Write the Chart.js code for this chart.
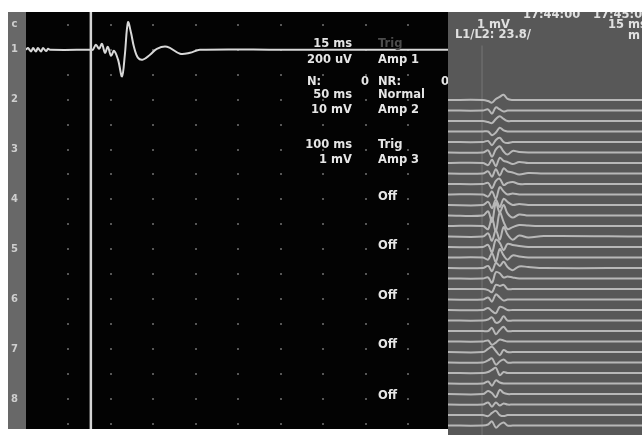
<!DOCTYPE html>
<html>
<head>
<meta charset="utf-8">
<script src="https://cdn.jsdelivr.net/npm/chart.js@4/dist/chart.umd.min.js"></script>
<style>
  html, body { margin: 0; padding: 0; background: #ffffff; }
  body { width: 642px; height: 435px; position: relative; overflow: hidden; }
  canvas { position: absolute; top: 0; }
  #live { left: 0; }
  #stack { left: 448px; }
</style>
</head>
<body>
<canvas id="live" width="448" height="435"></canvas>
<canvas id="stack" width="194" height="435"></canvas>
<script>
// ---- Channel strip: labels and their vertical positions (uV, 200 uV per row) ----
const CHANNEL_LABELS = ['c', '1', '2', '3', '4', '5', '6', '7', '8'];
const CHANNEL_UV = [200, 0, -400, -800, -1200, -1600, -2000, -2400, -2800];

// ---- Channel 1 live sweep: time (ms) and amplitude (uV) ----
const TRACE1_MS = [0, 0.07, 0.18, 0.25, 0.35, 0.42, 0.53, 0.60, 0.71, 0.78, 0.85,
  2.29, 2.36, 2.47, 2.58, 2.68, 2.79, 2.89, 3.00, 3.11, 3.25, 3.39, 3.49, 3.60,
  3.71, 3.81, 3.95, 4.13, 4.38, 4.62, 4.98, 5.44, 5.79, 6.14, 9.00, 14.9];
const TRACE1_UV = [0, 14, -14, 14, -14, 14, -14, 14, -10, 8, 0,
  0, 0, 40, 8, 47, -24, 24, -47, -8, -79, -213, -40, 221,
  134, 24, -63, -79, -40, 8, 24, -32, -24, 0, 0, 0];
const CURSOR_MS = 2.29;

// ---- Stacked consecutive responses: common sample times (ms) and per-sweep offsets ----
const STACK_MS = [0, 2.7, 3.1, 3.4, 3.7, 4.0, 4.3, 4.6, 5.0, 5.5, 6.2, 7.4, 15];
const STACK_OFFSETS = [
  [0, 0, -0.1, -0.25, 0.1, 0.3, 0.5, 0.1, 0, 0, 0, 0, 0],
  [0, 0, 0.1, -0.3, 0.3, 0.1, -0.1, 0, 0, 0, 0, 0, 0],
  [0, 0, -0.1, -0.2, 0.2, 0.45, 0.2, 0, 0, 0, 0, 0, 0],
  [0, 0, 0, -0.35, -0.1, 0.35, 0.1, 0, 0, 0, 0, 0, 0],
  [0, 0, 0.1, -0.3, 0.2, 0.4, 0, -0.1, 0, 0, 0, 0, 0],
  [0, 0, 0.2, -0.4, 0.3, 0.6, 0.1, -0.2, 0.15, 0.05, 0, 0, 0],
  [0, 0, -0.2, 0.3, -0.3, 0.5, 0.2, 0.1, -0.1, 0.1, 0, 0, 0],
  [0, 0, 0.2, -0.3, 0.4, -0.2, 0.5, 0.2, 0.1, -0.1, 0.05, 0, 0],
  [0, 0, 0.1, -0.4, 0.3, 0.5, -0.1, 0.1, 0.2, 0, 0, 0, 0],
  [0, 0, -0.2, 0.3, -0.4, 0.7, 0.3, 0, 0.1, 0, 0, 0, 0],
  [0, 0, 0.3, -0.3, 0.5, -0.2, 0.6, 0.3, 0, 0.1, 0, 0, 0],
  [0, 0, 0.4, -0.6, 1.2, 0.3, 1.0, 0.2, -0.2, 0.1, 0, 0, 0],
  [0, 0, -0.3, 0.8, -0.5, 1.3, 0.4, -0.3, -0.1, 0.1, 0.05, 0, 0],
  [0, 0, 0.3, -0.4, 0.6, -0.3, 0.9, 0.2, -0.3, 0.1, -0.1, 0.05, 0],
  [0, 0, 0.2, -0.5, 0.7, 0.4, -0.3, 0.3, 0.2, 0.1, 0, 0, 0],
  [0, 0, -0.2, 0.4, -0.4, 0.8, 0.2, -0.2, 0.2, 0.1, 0, 0, 0],
  [0, 0, 0.2, -0.3, 0.5, 0.2, 0.6, 0.1, -0.2, 0.15, 0.1, 0, 0],
  [0, 0, 0.1, -0.4, 0.6, 0.5, 0.1, 0.2, 0.1, 0, 0, 0, 0],
  [0, 0, -0.1, -0.3, 0.4, 0.3, 0.4, 0, 0, 0, 0, 0, 0],
  [0, 0, 0.2, -0.2, 0.5, 0.2, -0.1, 0, 0, 0, 0, 0, 0],
  [0, 0, 0.2, -0.1, -0.3, 0.3, 0.2, 0, 0, 0, 0, 0, 0],
  [0, 0, 0.1, 0.3, -0.2, -0.1, 0.4, 0, 0, 0, 0, 0, 0],
  [0, 0, 0, 0.3, -0.3, 0.1, 0.4, 0, 0, 0, 0, 0, 0],
  [0, 0, 0.1, -0.3, -0.1, 0.2, 0.1, 0, 0, 0, 0, 0, 0],
  [0, 0, 0.3, 0.5, 0.1, -0.3, 0.2, 0, 0, 0, 0, 0, 0],
  [0, 0, 0.2, 0.4, -0.2, 0.1, 0.3, 0, 0, 0, 0, 0, 0],
  [0, 0, 0.1, 0.3, 0.5, -0.2, 0.1, 0, 0, 0, 0, 0, 0],
  [0, 0, 0.2, -0.2, 0.3, 0.1, 0, 0, 0, 0, 0, 0, 0],
  [0, 0, 0.3, 0.1, -0.3, 0.4, 0.1, 0, 0, 0, 0, 0, 0],
  [0, 0, 0.2, -0.2, 0.2, -0.1, 0.1, 0, 0, 0, 0, 0, 0],
  [0, 0, -0.1, 0.2, 0.4, 0, -0.1, 0, 0, 0, 0, 0, 0],
  [0, 0, 0.1, 0.4, -0.2, 0.1, 0.3, 0, 0, 0, 0, 0, 0]
];
const STACK_MARKER_MS = 2.63;

// ---- Settings text shown on the monitor ----
const FONT = "bold 11.5px 'DejaVu Sans'";
const SETTINGS_TEXT = [
  // [x, y, align, text, colour]
  [352, 44, 'right', '15 ms', '#e6e6e6'],
  [378, 44, 'left', 'Trig', '#4c4c4c'],
  [352, 60, 'right', '200 uV', '#e6e6e6'],
  [378, 60, 'left', 'Amp 1', '#e6e6e6'],
  [307, 82, 'left', 'N:', '#e6e6e6'],
  [369, 82, 'right', '0', '#e6e6e6'],
  [378, 82, 'left', 'NR:', '#e6e6e6'],
  [441, 82, 'left', '0', '#e6e6e6'],
  [352, 95, 'right', '50 ms', '#e6e6e6'],
  [378, 95, 'left', 'Normal', '#e6e6e6'],
  [352, 110, 'right', '10 mV', '#e6e6e6'],
  [378, 110, 'left', 'Amp 2', '#e6e6e6'],
  [352, 145, 'right', '100 ms', '#e6e6e6'],
  [378, 145, 'left', 'Trig', '#e6e6e6'],
  [352, 160, 'right', '1 mV', '#e6e6e6'],
  [378, 160, 'left', 'Amp 3', '#e6e6e6'],
  [378, 197, 'left', 'Off', '#e6e6e6'],
  [378, 246, 'left', 'Off', '#e6e6e6'],
  [378, 296, 'left', 'Off', '#e6e6e6'],
  [378, 345, 'left', 'Off', '#e6e6e6'],
  [378, 396, 'left', 'Off', '#e6e6e6']
];
const STACK_TEXT = [
  [75, 15, 'left', '17:44:00', '#e0e0e0'],
  [145, 15, 'left', '17:45:0', '#e0e0e0'],
  [29, 25, 'left', '1 mV', '#e0e0e0'],
  [160, 25, 'left', '15 ms', '#e0e0e0'],
  [7, 35, 'left', 'L1/L2: 23.8/', '#e0e0e0'],
  [180, 36, 'left', 'm', '#e0e0e0']
];

function drawTextList(ctx, list) {
  ctx.save();
  ctx.font = FONT;
  ctx.textBaseline = 'middle';
  list.forEach(([x, y, align, text, colour]) => {
    ctx.textAlign = align;
    ctx.fillStyle = colour;
    ctx.fillText(text, x, y);
  });
  ctx.restore();
}

// ---- Left panel: live channel with dot grid ----
const livePanel = {
  id: 'livePanel',
  beforeDraw(chart) {
    const { ctx, chartArea: a, scales } = chart;
    ctx.save();
    ctx.fillStyle = '#ffffff';
    ctx.fillRect(0, 0, chart.width, chart.height);
    ctx.fillStyle = '#686868';
    ctx.fillRect(scales.y.left, a.top, scales.y.width, a.bottom - a.top);
    ctx.fillStyle = '#030303';
    ctx.fillRect(a.left, a.top, a.right - a.left, a.bottom - a.top);
    ctx.restore();
  },
  beforeDatasetsDraw(chart) {
    const { ctx, scales: { x, y } } = chart;
    ctx.save();
    ctx.fillStyle = '#565656';
    for (let col = 1; col <= 9; col++) {
      const px = x.getPixelForValue(col * 1.5);
      for (let row = 0; row <= 16; row++) {
        const py = y.getPixelForValue(200 - row * 200);
        ctx.fillRect(Math.round(px) - 1, Math.round(py) - 1, 2, 2);
      }
    }
    ctx.restore();
  },
  afterDatasetsDraw(chart) {
    const { ctx, chartArea: a, scales: { x } } = chart;
    const px = x.getPixelForValue(CURSOR_MS);
    ctx.save();
    ctx.strokeStyle = '#d4d4d4';
    ctx.lineWidth = 2.5;
    ctx.beginPath();
    ctx.moveTo(px, a.top);
    ctx.lineTo(px, a.bottom);
    ctx.stroke();
    ctx.restore();
    drawTextList(ctx, SETTINGS_TEXT);
  }
};

new Chart(document.getElementById('live'), {
  type: 'line',
  data: {
    datasets: [{
      data: TRACE1_MS.map((t, i) => ({ x: t, y: TRACE1_UV[i] })),
      borderColor: '#d8d8d8',
      borderWidth: 2,
      pointRadius: 0,
      tension: 0.35,
      fill: false
    }]
  },
  options: {
    responsive: false,
    animation: false,
    devicePixelRatio: 1,
    layout: { padding: { left: 8, top: 12, right: 0, bottom: 0 } },
    plugins: { legend: { display: false }, tooltip: { enabled: false } },
    scales: {
      x: { type: 'linear', min: 0, max: 14.9, display: false },
      y: {
        type: 'linear', min: -3041, max: 303,
        grid: { display: false },
        border: { display: false },
        afterFit(axis) { axis.width = 18; },
        afterBuildTicks(axis) { axis.ticks = CHANNEL_UV.map(v => ({ value: v })); },
        ticks: {
          padding: 0,
          crossAlign: 'center',
          color: '#cfcfcf',
          font: { family: 'DejaVu Sans', weight: 'bold', size: 10 },
          callback: (v) => CHANNEL_LABELS[CHANNEL_UV.indexOf(v)]
        }
      }
    }
  },
  plugins: [livePanel]
});

// ---- Right panel: stacked consecutive sweeps ----
const stackPanel = {
  id: 'stackPanel',
  beforeDraw(chart) {
    const { ctx, chartArea: a } = chart;
    ctx.save();
    ctx.fillStyle = '#ffffff';
    ctx.fillRect(0, 0, chart.width, chart.height);
    ctx.fillStyle = '#585858';
    ctx.fillRect(a.left, a.top, a.right - a.left, a.bottom - a.top);
    ctx.restore();
  },
  beforeDatasetsDraw(chart) {
    const { ctx, chartArea: a, scales: { x, y } } = chart;
    const px = x.getPixelForValue(STACK_MARKER_MS);
    ctx.save();
    ctx.strokeStyle = '#6c6c6c';
    ctx.lineWidth = 1.5;
    ctx.beginPath();
    ctx.moveTo(px, y.getPixelForValue(5.2));
    ctx.lineTo(px, a.bottom);
    ctx.stroke();
    ctx.restore();
  },
  afterDraw(chart) {
    const { ctx, chartArea: a } = chart;
    ctx.save();
    ctx.beginPath();
    ctx.rect(a.left, a.top, a.right - a.left, a.bottom - a.top);
    ctx.clip();
    drawTextList(ctx, STACK_TEXT);
    ctx.restore();
  }
};

new Chart(document.getElementById('stack'), {
  type: 'line',
  data: {
    datasets: STACK_OFFSETS.map((offs, i) => ({
      data: STACK_MS.map((t, k) => ({ x: t, y: -i + offs[k] })),
      borderColor: '#b8b8b8',
      borderWidth: 2,
      pointRadius: 0,
      tension: 0.35,
      fill: false
    }))
  },
  options: {
    responsive: false,
    animation: false,
    devicePixelRatio: 1,
    layout: { padding: { left: 0, top: 12, right: 0, bottom: 0 } },
    plugins: { legend: { display: false }, tooltip: { enabled: false } },
    scales: {
      x: { type: 'linear', min: 0, max: 15, display: false },
      y: { type: 'linear', min: -31.9, max: 8.38, display: false }
    }
  },
  plugins: [stackPanel]
});
</script>
</body>
</html>
